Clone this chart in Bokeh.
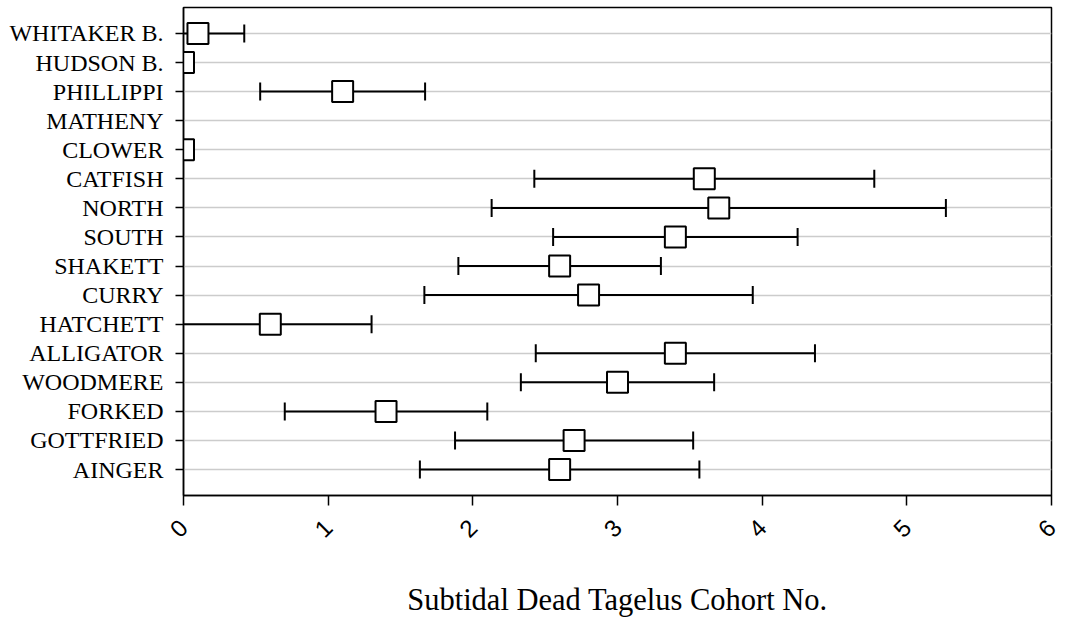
import math
from bokeh.plotting import figure
from bokeh.models import FixedTicker, ColumnDataSource, Range1d
from bokeh.embed import file_html
from bokeh.resources import INLINE

# ---- data (top row first) ----
sites = ["WHITAKER B.", "HUDSON B.", "PHILLIPPI", "MATHENY", "CLOWER", "CATFISH",
         "NORTH", "SOUTH", "SHAKETT", "CURRY", "HATCHETT", "ALLIGATOR",
         "WOODMERE", "FORKED", "GOTTFRIED", "AINGER"]
means = [0.10, 0.0, 1.10, float("nan"), 0.0, 3.60,
         3.70, 3.40, 2.60, 2.80, 0.60, 3.40,
         3.00, 1.40, 2.70, 2.60]
errs = [0.32, 0.0, 0.57, float("nan"), 0.0, 1.175,
        1.57, 0.845, 0.70, 1.135, 0.70, 0.965,
        0.668, 0.70, 0.823, 0.966]
x_ticks = [0, 1, 2, 3, 4, 5, 6]
x_title = "Subtidal Dead Tagelus Cohort No."

n = len(sites)
ypos = [n - i for i in range(n)]

pts = {"y": [], "mean": []}
bars = {"y": [], "lower": [], "upper": []}
for y, m, e in zip(ypos, means, errs):
    if math.isnan(m):
        continue
    pts["y"].append(y)
    pts["mean"].append(m)
    if e > 0:
        bars["y"].append(y)
        bars["lower"].append(m - e)
        bars["upper"].append(m + e)

pts_src = ColumnDataSource(pts)
bar_src = ColumnDataSource(bars)

p = figure(frame_width=868, frame_height=488,
           x_range=Range1d(0, 6), y_range=Range1d(0.107, n + 0.893),
           output_backend="svg", toolbar_location=None,
           min_border_left=183, min_border_right=14,
           min_border_top=7, min_border_bottom=117,
           background_fill_color="white", border_fill_color="white")

p.outline_line_color = "black"
p.outline_line_width = 1.5

p.segment(x0="lower", y0="y", x1="upper", y1="y", source=bar_src,
          line_color="black", line_width=2)
p.scatter(x="lower", y="y", source=bar_src, marker="dash", angle=math.pi / 2,
          size=18, line_color="black", line_width=2)
p.scatter(x="upper", y="y", source=bar_src, marker="dash", angle=math.pi / 2,
          size=18, line_color="black", line_width=2)
p.scatter(x="mean", y="y", source=pts_src, marker="square", size=21,
          fill_color="white", line_color="black", line_width=2)

# y axis
p.yaxis.ticker = FixedTicker(ticks=ypos)
p.yaxis.major_label_overrides = {y: s for y, s in zip(ypos, sites)}
p.yaxis.major_label_text_font = "Liberation Serif"
p.yaxis.major_label_text_font_size = "24px"
p.yaxis.major_label_text_color = "black"
p.yaxis.major_label_standoff = 12
p.yaxis.major_tick_out = 8
p.yaxis.major_tick_in = 0
p.yaxis.minor_tick_out = 0
p.yaxis.minor_tick_in = 0
p.yaxis.axis_line_width = 1.5
p.yaxis.major_tick_line_width = 1.5

# x axis
p.xaxis.ticker = FixedTicker(ticks=x_ticks)
p.xaxis.major_label_orientation = math.pi / 4
p.xaxis.major_label_text_font = "Liberation Sans"
p.xaxis.major_label_text_font_size = "24px"
p.xaxis.major_label_text_color = "black"
p.xaxis.major_label_standoff = 18
p.xaxis.major_tick_out = 10
p.xaxis.major_tick_in = 0
p.xaxis.axis_line_width = 1.5
p.xaxis.major_tick_line_width = 1.5
p.xaxis.axis_label = x_title
p.xaxis.axis_label_text_font = "Liberation Serif"
p.xaxis.axis_label_text_font_size = "30.5px"
p.xaxis.axis_label_text_font_style = "normal"
p.xaxis.axis_label_text_color = "black"
p.xaxis.axis_label_standoff = 35

p.xgrid.visible = False
p.ygrid.grid_line_color = "#cccccc"
p.ygrid.grid_line_width = 1.5

open("out.html", "w").write(file_html(p, INLINE))
